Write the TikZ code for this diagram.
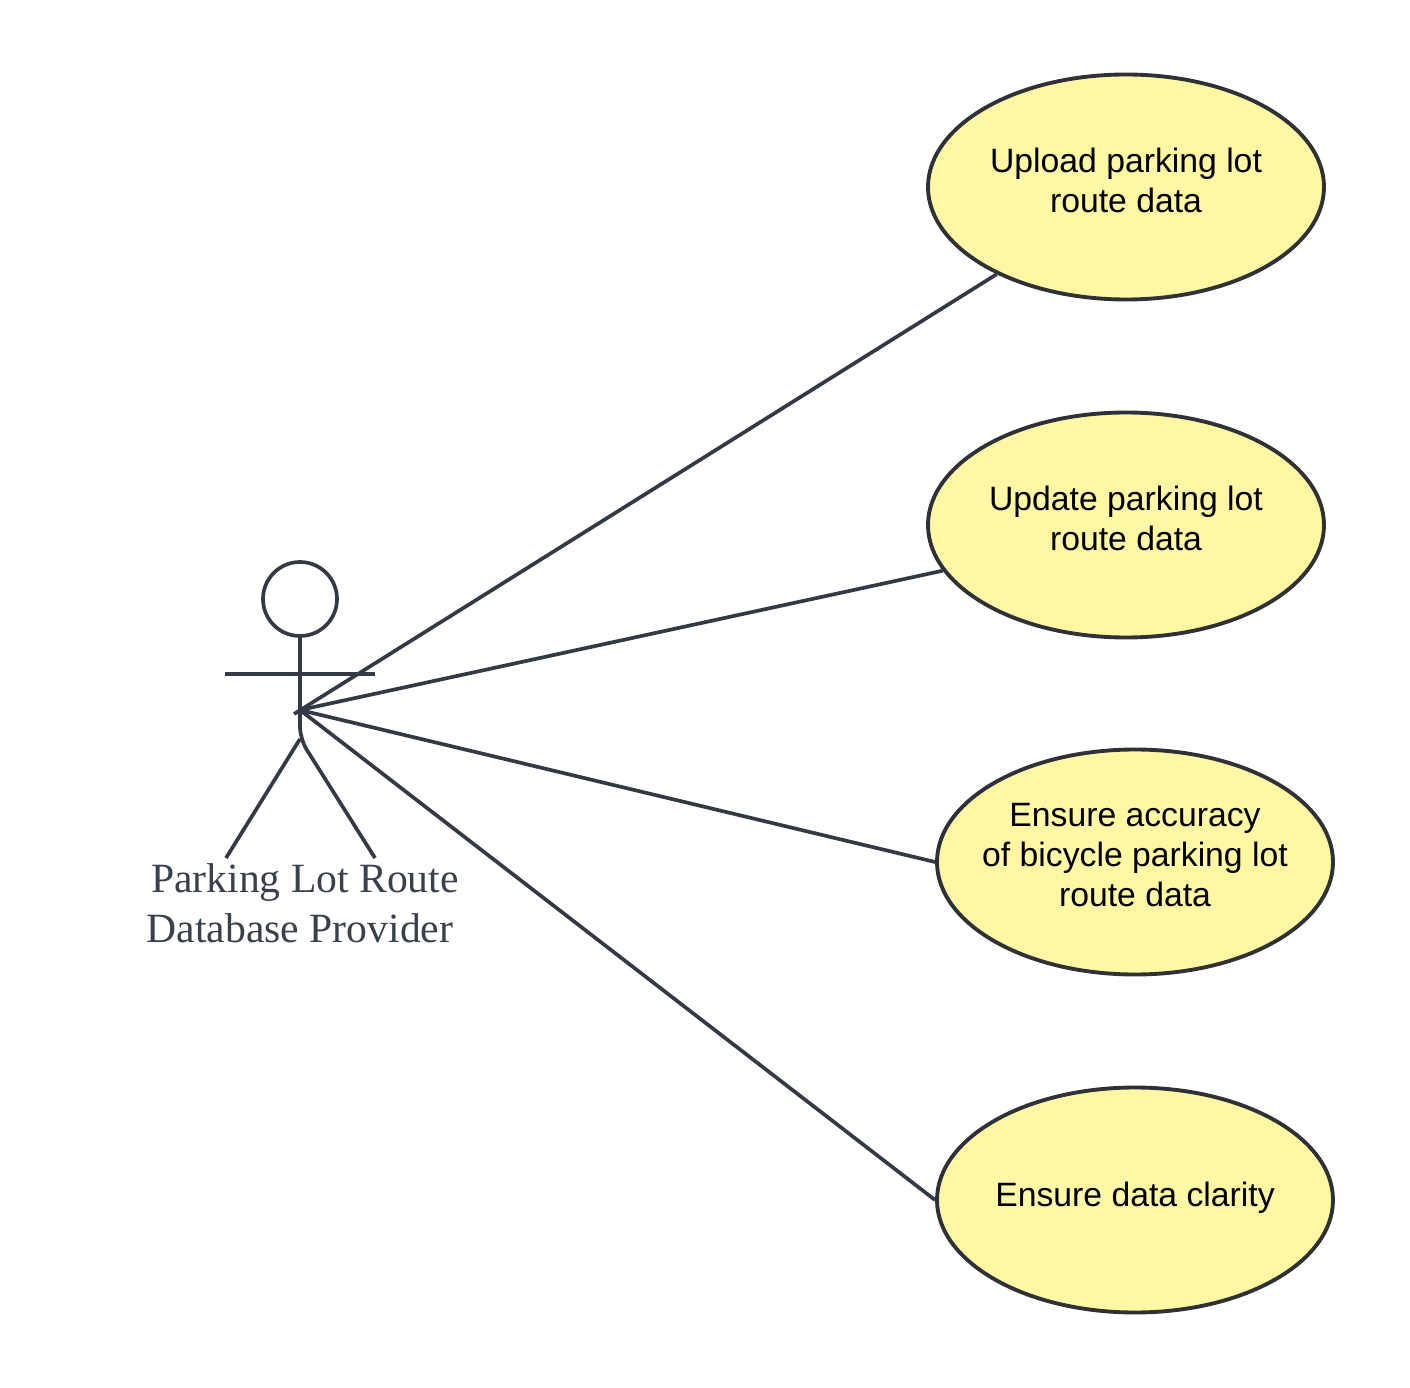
\documentclass[tikz,border=0pt]{standalone}
\usepackage{fontspec}
\setmainfont{Liberation Serif}
\newfontfamily\ucfont{Liberation Sans}
\usepackage{tikz}
\usetikzlibrary{shapes.geometric}
\definecolor{ucfill}{HTML}{FFF7A3}
\definecolor{ucline}{HTML}{2E3136}
\definecolor{actorline}{HTML}{333A45}
\definecolor{actortext}{HTML}{3A414D}
\tikzset{
    usecase/.style={ellipse,draw=ucline,fill=ucfill,line width=2.2pt,minimum width=396\pxunit,minimum height=225\pxunit,inner sep=-30\pxunit,align=center,font=\ucfont\fontsize{19.2}{22.8}\selectfont,text=black},
    actor/.style={draw=actorline,line width=2.1pt},
    assoc/.style={draw=actorline,line width=2.1pt}
}
\newlength{\pxunit}
\setlength{\pxunit}{0.02cm}

\begin{document}
\begin{tikzpicture}[x=0.02cm,y=-0.02cm]
            \useasboundingbox (0,0) rectangle (1410,1388);
            \node[usecase,text depth=14\pxunit] (uc1) at (1126,187) {Upload parking lot\\route data};
            \node[usecase,text depth=14\pxunit] (uc2) at (1126,525) {Update parking lot\\route data};
            \node[usecase,text depth=14\pxunit] (uc3) at (1135,862) {Ensure accuracy\\of bicycle parking lot\\route data};
            \node[usecase,text depth=12\pxunit] (uc4) at (1135,1200) {Ensure data clarity};
            \node[circle,actor,minimum size=74\pxunit,inner sep=0pt] (head) at (300,599) {};
            \coordinate (hub) at (300,710);
            \coordinate (tail) at (294,714);
            \coordinate (hip) at (300,739);
            \coordinate (handl) at (225,674);
            \coordinate (handr) at (375,674);
            \coordinate (footl) at (226,858);
            \coordinate (footr) at (375,858);
            \draw[actor] (head.south) -- (hub);
            \draw[actor] (handl) -- (handr);
            \draw[actor,rounded corners=7pt] (hub) -- (hip) -- (footr);
            \draw[actor] (hip) -- (footl);
            \node[text=actortext,align=center,font=\fontsize{23.7}{28.5}\selectfont,inner sep=0pt] (name) at (300,903) {\hspace*{10\pxunit}Parking Lot Route\\Database Provider};
            \draw[assoc] (tail) -- (uc1.214);
            \draw[assoc] (hub) -- (uc2.194);
            \draw[assoc] (hub) -- (uc3.west);
            \draw[assoc] (hub) -- (uc4.west);
        \end{tikzpicture}
\end{document}
